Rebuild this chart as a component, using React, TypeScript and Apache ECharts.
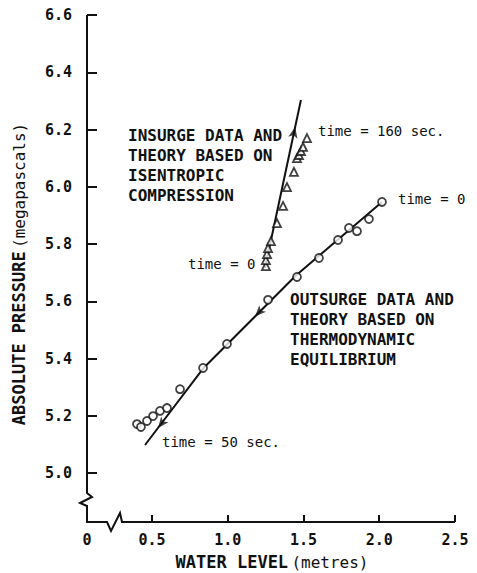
import React, { useEffect, useRef } from 'react';
import * as echarts from 'echarts';

// ---- data ----
const outsurgeLevel = [0.401, 0.427, 0.467, 0.507, 0.553, 0.599, 0.685, 0.837, 0.995, 1.266, 1.457, 1.602, 1.728, 1.800, 1.853, 1.932, 2.018];
const outsurgePressure = [5.171, 5.161, 5.182, 5.199, 5.217, 5.227, 5.293, 5.367, 5.451, 5.605, 5.685, 5.751, 5.814, 5.856, 5.845, 5.887, 5.947];

const insurgeLevel = [1.252, 1.252, 1.259, 1.266, 1.285, 1.325, 1.365, 1.391, 1.437, 1.457, 1.470, 1.483, 1.497, 1.523];
const insurgePressure = [5.723, 5.744, 5.765, 5.786, 5.810, 5.873, 5.933, 5.999, 6.052, 6.100, 6.111, 6.125, 6.139, 6.170];

const outsurgeTheoryLevel = [0.454, 0.837, 1.45, 2.018];
const outsurgeTheoryPressure = [5.098, 5.365, 5.69, 5.947];
const insurgeTheoryLevel = [1.246, 1.483];
const insurgeTheoryPressure = [5.716, 6.303];

const arrowLevel = [1.445, 1.180, 0.540];
const arrowPressure = [6.209, 5.547, 5.157];
const arrowRotate = [-12, 136, 142];

const xTickValues = [0.5, 1.0, 1.5, 2.0, 2.5];
const xOriginLabel = '0';
const yTickValues = [5.0, 5.2, 5.4, 5.6, 5.8, 6.0, 6.2, 6.4, 6.6];

const X_MIN = 0.071;
const X_MAX = 2.5;
const Y_MIN = 4.829;
const Y_MAX = 6.6;

const W = 477;
const H = 573;
const G = { left: 87, right: 22, top: 15, bottom: 51 };

const MONO = "'DejaVu Sans Mono', 'Liberation Mono', monospace";

const zip = (a: number[], b: number[]) => a.map((v, i) => [v, b[i]]);

export default function App() {
  const ref = useRef<HTMLDivElement>(null);

  useEffect(() => {
    if (!ref.current) return;
    const chart = echarts.init(ref.current, undefined, { renderer: 'svg' });
    const gl = G.left;
    const gb = H - G.bottom;
    const gr = W - G.right;
    const gt = G.top;

    const textEl = (text: string, x: number, y: number, size: number, weight: string) => ({
      type: 'text',
      x,
      y,
      z: 50,
      style: {
        text,
        fill: '#111',
        font: `${weight} ${size}px ${MONO}`,
        align: 'left',
        verticalAlign: 'middle',
      },
    });

    chart.setOption({
      animation: false,
      backgroundColor: '#fff',
      grid: { left: G.left, right: G.right, top: G.top, bottom: G.bottom, containLabel: false, outerBoundsMode: 'none' },
      xAxis: {
        type: 'value',
        min: X_MIN,
        max: X_MAX,
        axisLine: { show: false },
        splitLine: { show: false },
        axisTick: { show: true, inside: true, length: 7, customValues: xTickValues, lineStyle: { color: '#111', width: 2 } },
        axisLabel: {
          customValues: [X_MIN, ...xTickValues],
          formatter: (v: number) => (Math.abs(v - X_MIN) < 1e-6 ? xOriginLabel : v.toFixed(1)),
          margin: 10,
          color: '#111',
          fontFamily: MONO,
          fontWeight: 'bold',
          fontSize: 15,
        },
      },
      yAxis: {
        type: 'value',
        min: Y_MIN,
        max: Y_MAX,
        axisLine: { show: false },
        splitLine: { show: false },
        axisTick: { show: true, inside: true, length: 10, customValues: yTickValues, lineStyle: { color: '#111', width: 2 } },
        axisLabel: {
          customValues: yTickValues,
          formatter: (v: number) => v.toFixed(1),
          margin: 15,
          color: '#111',
          fontFamily: MONO,
          fontWeight: 'bold',
          fontSize: 15,
        },
      },
      series: [
        {
          type: 'line',
          data: zip(outsurgeTheoryLevel, outsurgeTheoryPressure),
          showSymbol: false,
          lineStyle: { color: '#111', width: 2 },
          z: 2,
        },
        {
          type: 'line',
          data: zip(insurgeTheoryLevel, insurgeTheoryPressure),
          showSymbol: false,
          lineStyle: { color: '#111', width: 2 },
          z: 2,
        },
        {
          type: 'scatter',
          data: zip(outsurgeLevel, outsurgePressure),
          symbol: 'circle',
          symbolSize: 8,
          itemStyle: { color: '#fff', borderColor: '#111', borderWidth: 1.8 },
          z: 3,
        },
        {
          type: 'scatter',
          data: zip(insurgeLevel, insurgePressure),
          symbol: 'triangle',
          symbolSize: 8,
          itemStyle: { color: '#fff', borderColor: '#111', borderWidth: 1.8 },
          z: 3,
        },
        {
          type: 'scatter',
          data: arrowLevel.map((x, i) => ({ value: [x, arrowPressure[i]], symbolRotate: arrowRotate[i] })),
          symbol: 'arrow',
          symbolSize: [7, 11],
          itemStyle: { color: '#111' },
          z: 4,
        },
      ],
      graphic: [
        {
          type: 'polyline',
          z: 40,
          shape: {
            points: [
              [gl, gt], [gl, gb - 29], [gl + 5, gb - 25], [gl - 7, gb - 19], [gl, gb - 16], [gl, gb],
              [gl + 20, gb], [gl + 24, gb + 9], [gl + 33, gb - 9], [gl + 35, gb], [gr, gb],
            ],
          },
          style: { stroke: '#111', lineWidth: 2, fill: null },
        },
        textEl('INSURGE DATA AND', 128, 135, 16, 'bold'),
        textEl('THEORY BASED ON', 128, 155, 16, 'bold'),
        textEl('ISENTROPIC', 128, 175, 16, 'bold'),
        textEl('COMPRESSION', 128, 195, 16, 'bold'),
        textEl('OUTSURGE DATA AND', 290, 299, 16, 'bold'),
        textEl('THEORY BASED ON', 290, 319, 16, 'bold'),
        textEl('THERMODYNAMIC', 290, 339, 16, 'bold'),
        textEl('EQUILIBRIUM', 290, 359, 16, 'bold'),
        textEl('time = 160 sec.', 318, 131, 14, 'normal'),
        textEl('time = 0', 188, 264, 14, 'normal'),
        textEl('time = 0', 398, 199, 14, 'normal'),
        textEl('time = 50 sec.', 162, 442, 14, 'normal'),
        {
          type: 'text',
          x: 19,
          y: 274,
          rotation: Math.PI / 2,
          z: 50,
          style: {
            text: '{a|ABSOLUTE PRESSURE} {b|(megapascals)}',
            align: 'center',
            verticalAlign: 'middle',
            fill: '#111',
            rich: {
              a: { font: `bold 17px ${MONO}`, fill: '#111' },
              b: { font: `normal 16px ${MONO}`, fill: '#111' },
            },
          },
        },
        {
          type: 'text',
          x: 272,
          y: 562,
          z: 50,
          style: {
            text: '{a|WATER LEVEL} {b|(metres)}',
            align: 'center',
            verticalAlign: 'middle',
            fill: '#111',
            rich: {
              a: { font: `bold 17px ${MONO}`, fill: '#111' },
              b: { font: `normal 16px ${MONO}`, fill: '#111' },
            },
          },
        },
      ],
    });

    return () => chart.dispose();
  }, []);

  return (
    <div
      ref={ref}
      style={{ position: 'fixed', left: 0, top: 0, width: W, height: H, background: '#fff' }}
    />
  );
}
